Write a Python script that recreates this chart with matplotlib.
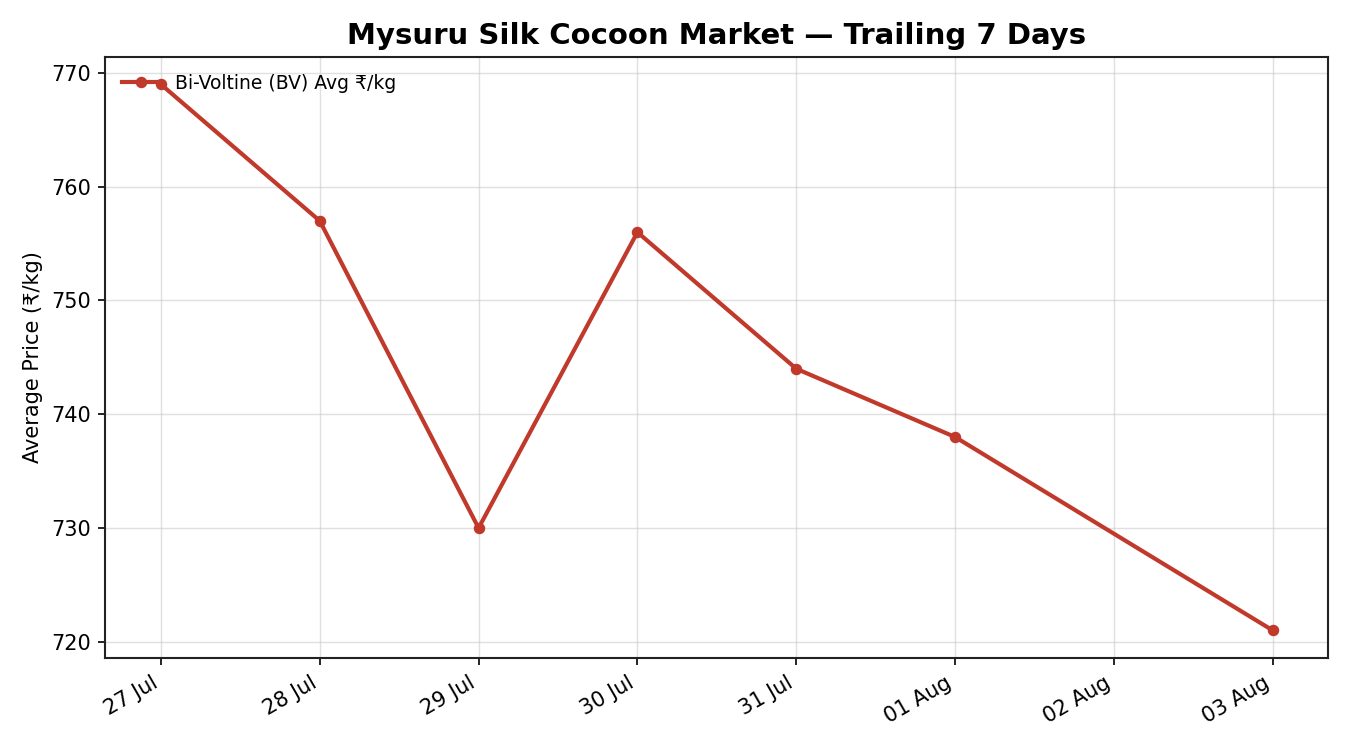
import numpy as np
import pandas as pd
import matplotlib
matplotlib.use("Agg")
import matplotlib.pyplot as plt
import matplotlib.dates as mdates

# BV cocoon average price, trailing 7 days (02 Aug has no auction)
dates = ["2025-07-27", "2025-07-28", "2025-07-29", "2025-07-30",
         "2025-07-31", "2025-08-01", "2025-08-03"]
bv_price = [769, 757, 730, 756, 744, 738, 721]
tick_dates = ["2025-07-27", "2025-07-28", "2025-07-29", "2025-07-30",
              "2025-07-31", "2025-08-01", "2025-08-02", "2025-08-03"]

x = pd.to_datetime(dates)

fig, ax = plt.subplots(figsize=(9, 5), dpi=150)
ax.plot(x, bv_price, color="#c0392b", lw=2, marker="o", ms=4.5,
        label="Bi-Voltine (BV) Avg ₹/kg")

ax.set_title("Mysuru Silk Cocoon Market — Trailing 7 Days",
             fontsize=14, fontweight="bold")
ax.set_ylabel("Average Price (₹/kg)", fontsize=10)
ax.set_xticks(pd.to_datetime(tick_dates))
ax.xaxis.set_major_formatter(mdates.DateFormatter("%d %b"))
ax.set_yticks([720, 730, 740, 750, 760, 770])
ax.tick_params(labelsize=10)
ax.grid(True, color="#cccccc", alpha=0.6, lw=0.7)
for s in ax.spines.values():
    s.set_color("#222222")
    s.set_linewidth(1.0)
ax.legend(loc="upper left", frameon=False, fontsize=9,
          borderaxespad=0.5, handlelength=2.0)
fig.autofmt_xdate(rotation=30)
fig.subplots_adjust(left=0.078, right=0.984, top=0.924, bottom=0.123)
fig.savefig("out.png", dpi=150)
